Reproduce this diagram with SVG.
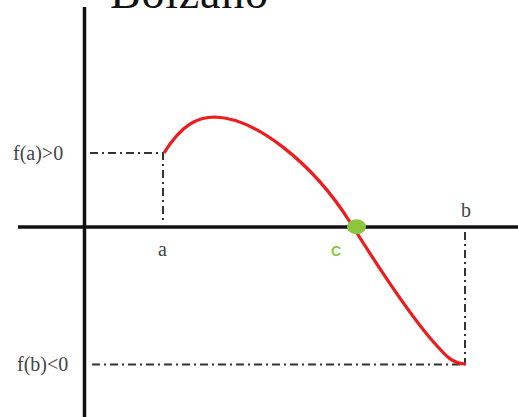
<svg xmlns="http://www.w3.org/2000/svg" width="518" height="417" viewBox="0 0 518 417">
<style>
.axis{stroke:#111;stroke-width:3.5;fill:none}
.guide{stroke:#333;stroke-width:2;fill:none;stroke-dasharray:8 4 2 4}
.lbl{font-family:"Liberation Serif","Times New Roman",serif;fill:#444;font-size:20px}
</style>
<rect width="518" height="417" fill="#fff"/>
<g id="title"><text x="110" y="8" font-family="Liberation Serif, Times New Roman, serif" font-size="46" fill="#111" textLength="158">Bolzano</text></g>
<g id="axes">
<line class="axis" x1="84.5" y1="7" x2="84.5" y2="417"/>
<line class="axis" x1="18" y1="227" x2="518" y2="227" stroke-width="3"/>
</g>
<g id="connectors">
<polyline class="guide" points="90,153 163,153 163,221"/>
<line class="guide" x1="465" y1="232" x2="465" y2="364"/>
<line class="guide" x1="92" y1="364.5" x2="465" y2="364.5"/>
</g>
<g id="curve">
<path d="M164,153 C182,124 198,117 215,117 C255,118 312,162 350,222 C375,262 405,308 430,338 C446,356 452,364 466,364" stroke="#ee1c1c" stroke-width="3.2" fill="none"/>
</g>
<g id="point-c"><ellipse cx="356.5" cy="226.7" rx="9.5" ry="7.5" fill="#8cc63f"/>
<text x="331" y="256" font-family="Liberation Sans, Arial, sans-serif" font-weight="bold" font-size="14" fill="#8cc63f">C</text></g>
<g id="labels">
<text class="lbl" x="13" y="160">f(a)&gt;0</text>
<text class="lbl" x="17" y="371">f(b)&lt;0</text>
<text class="lbl" x="158" y="256">a</text>
<text class="lbl" x="461" y="217">b</text>
</g>
</svg>
